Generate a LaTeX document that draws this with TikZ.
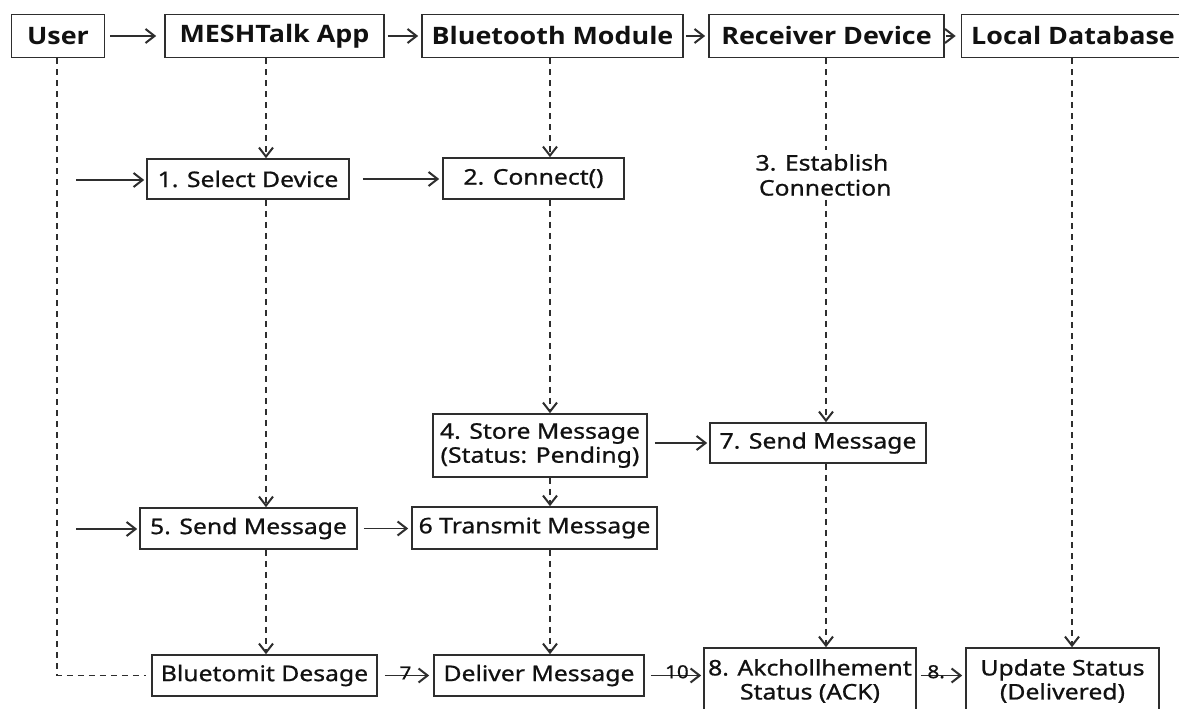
\documentclass[tikz,border=0pt]{standalone}
\usepackage{fontspec}
\setmainfont{Noto Sans}[FakeStretch=1.15, FakeBold=0.8]
\newfontfamily\hdrfont{Open Sans}[FakeStretch=1.12]
\usetikzlibrary{arrows.meta,calc}
\definecolor{linec}{HTML}{2E2E2E}
\definecolor{txt}{HTML}{111111}
\tikzset{
  hdr/.style={draw=linec, line width=1.7pt, rectangle, inner sep=0pt, text=txt,
    font=\hdrfont\fontsize{24}{28}\selectfont\bfseries, minimum height=43pt},
  box/.style={draw=linec, line width=1.6pt, rectangle, inner sep=0pt, text=txt,
    align=center, font=\fontsize{21.5}{24}\selectfont},
  plain/.style={text=txt, align=center, inner sep=0pt, font=\fontsize{21.5}{25}\selectfont},
  msg/.style={draw=linec, line width=1.6pt, -{Straight Barb[length=9pt,width=14pt,line width=2pt]}},
  life/.style={msg, dash pattern=on 6pt off 5pt},
  lifeplain/.style={draw=linec, line width=1.6pt, dash pattern=on 6pt off 5pt},
  lbl/.style={text=txt, inner sep=0.3pt, font=\fontsize{18}{18}\selectfont},
}
\begin{document}
\begin{tikzpicture}[x=1pt,y=-1pt]
\useasboundingbox[fill=white] (0,0) rectangle (1179,709);
% lifeline x positions
\coordinate (xU) at (57,0);
\coordinate (xM) at (266,0);
\coordinate (xB) at (550,0);
\coordinate (xR) at (826,0);
\coordinate (xL) at (1072,0);
\coordinate (in1) at (76,180);
\coordinate (in5) at (76,529);
% headers
\node[hdr, minimum width=93pt]  (user) at (58,36) {User};
\node[hdr, minimum width=219pt] (mesh) at (274.5,36) {MESHTalk App};
\node[hdr, minimum width=261pt] (bt)   at (552.5,36) {Bluetooth Module};
\node[hdr, minimum width=235pt] (rec)  at (826.5,36) {Receiver Device};
\node[hdr, minimum width=223pt] (ldb)  at (1073,36) {Local Database};
% boxes
\node[box, minimum width=202pt, minimum height=40pt] (sel)   at (248,179) {1. Select Device};
\node[box, minimum width=181pt, minimum height=41pt] (conn)  at (533.5,178.5) {2. Connect()};
\node[plain] (est) at (822,175) {3. Establish\\ \ Connection};
\node[box, minimum width=214pt, minimum height=63pt] (store) at (540,445.5) {4. Store Message\\(Status: Pending)};
\node[box, minimum width=216pt, minimum height=40pt] (send7) at (818,443) {7. Send Message};
\node[box, minimum width=217pt, minimum height=41pt] (send5) at (248.5,528.5) {5. Send Message};
\node[box, minimum width=245pt, minimum height=42pt] (trans) at (534.5,528) {6 Transmit Message};
\node[box, minimum width=225pt, minimum height=41pt] (blue)  at (264.5,675.5) {Bluetomit Desage};
\node[box, minimum width=210pt, minimum height=41pt] (deliv) at (539,675.5) {Deliver Message};
\node[box, minimum width=212pt, minimum height=66pt] (akch)  at (810,681) {8. Akchollhement\\Status (ACK)};
\node[box, minimum width=193pt, minimum height=66pt] (upd)   at (1062.5,681) {Update Status\\(Delivered)};
% header arrows
\draw[msg, shorten <=5pt, shorten >=8pt] (user.east) -- (mesh.west);
\draw[msg, shorten <=3pt, shorten >=3pt] (mesh.east) -- (bt.west);
\draw[msg, shorten <=2pt, shorten >=3pt] (bt.east) -- (rec.west);
\draw[msg, shorten <=1pt, shorten >=5pt] (rec.east) -- (ldb.west);
% lifelines
\draw[life] (mesh.south -| xM) -- (sel.north -| xM);
\draw[life] (bt.south -| xB) -- (conn.north -| xB);
\draw[lifeplain] (rec.south -| xR) -- ($(est.north -| xR)+(0,-4)$);
\draw[life] ($(est.south -| xR)+(0,4)$) -- (send7.north -| xR);
\draw[life] (ldb.south -| xL) -- (upd.north -| xL);
\draw[life] (sel.south -| xM) -- (send5.north -| xM);
\draw[life] (conn.south -| xB) -- (store.north -| xB);
\draw[life] (store.south -| xB) -- (trans.north -| xB);
\draw[life] (send5.south -| xM) -- (blue.north -| xM);
\draw[life] (trans.south -| xB) -- (deliv.north -| xB);
\draw[life] (send7.south -| xR) -- (akch.north -| xR);
\draw[lifeplain, shorten >=5pt] (user.south -| xU) -- (xU |- blue.west) -- (blue.west);
% messages
\draw[msg, shorten >=2pt] (in1) -- (in1 -| sel.west);
\draw[msg, shorten <=13pt, shorten >=3pt] (sel.east) -- (sel.east -| conn.west);
\draw[msg, shorten <=7pt, shorten >=2pt] (store.east |- send7.west) -- (send7.west);
\draw[msg, shorten >=2pt] (in5) -- (in5 -| send5.west);
\draw[msg, shorten <=6pt, shorten >=3pt] (send5.east) -- (send5.east -| trans.west);
\draw[msg, shorten <=7pt, shorten >=4pt] (blue.east) -- (blue.east -| deliv.west)
  node[lbl, pos=0.5, above, yshift=-5pt] {7};
\draw[msg, shorten <=6pt, shorten >=2pt] (deliv.east) -- (deliv.east -| akch.west)
  node[lbl, pos=0.55, above, yshift=-4pt] {10};
\draw[msg, shorten <=4pt, shorten >=3pt] (akch.east |- deliv.east) -- (upd.west |- deliv.east)
  node[lbl, pos=0.4, above, yshift=-4pt] {8.};
\end{tikzpicture}
\end{document}
